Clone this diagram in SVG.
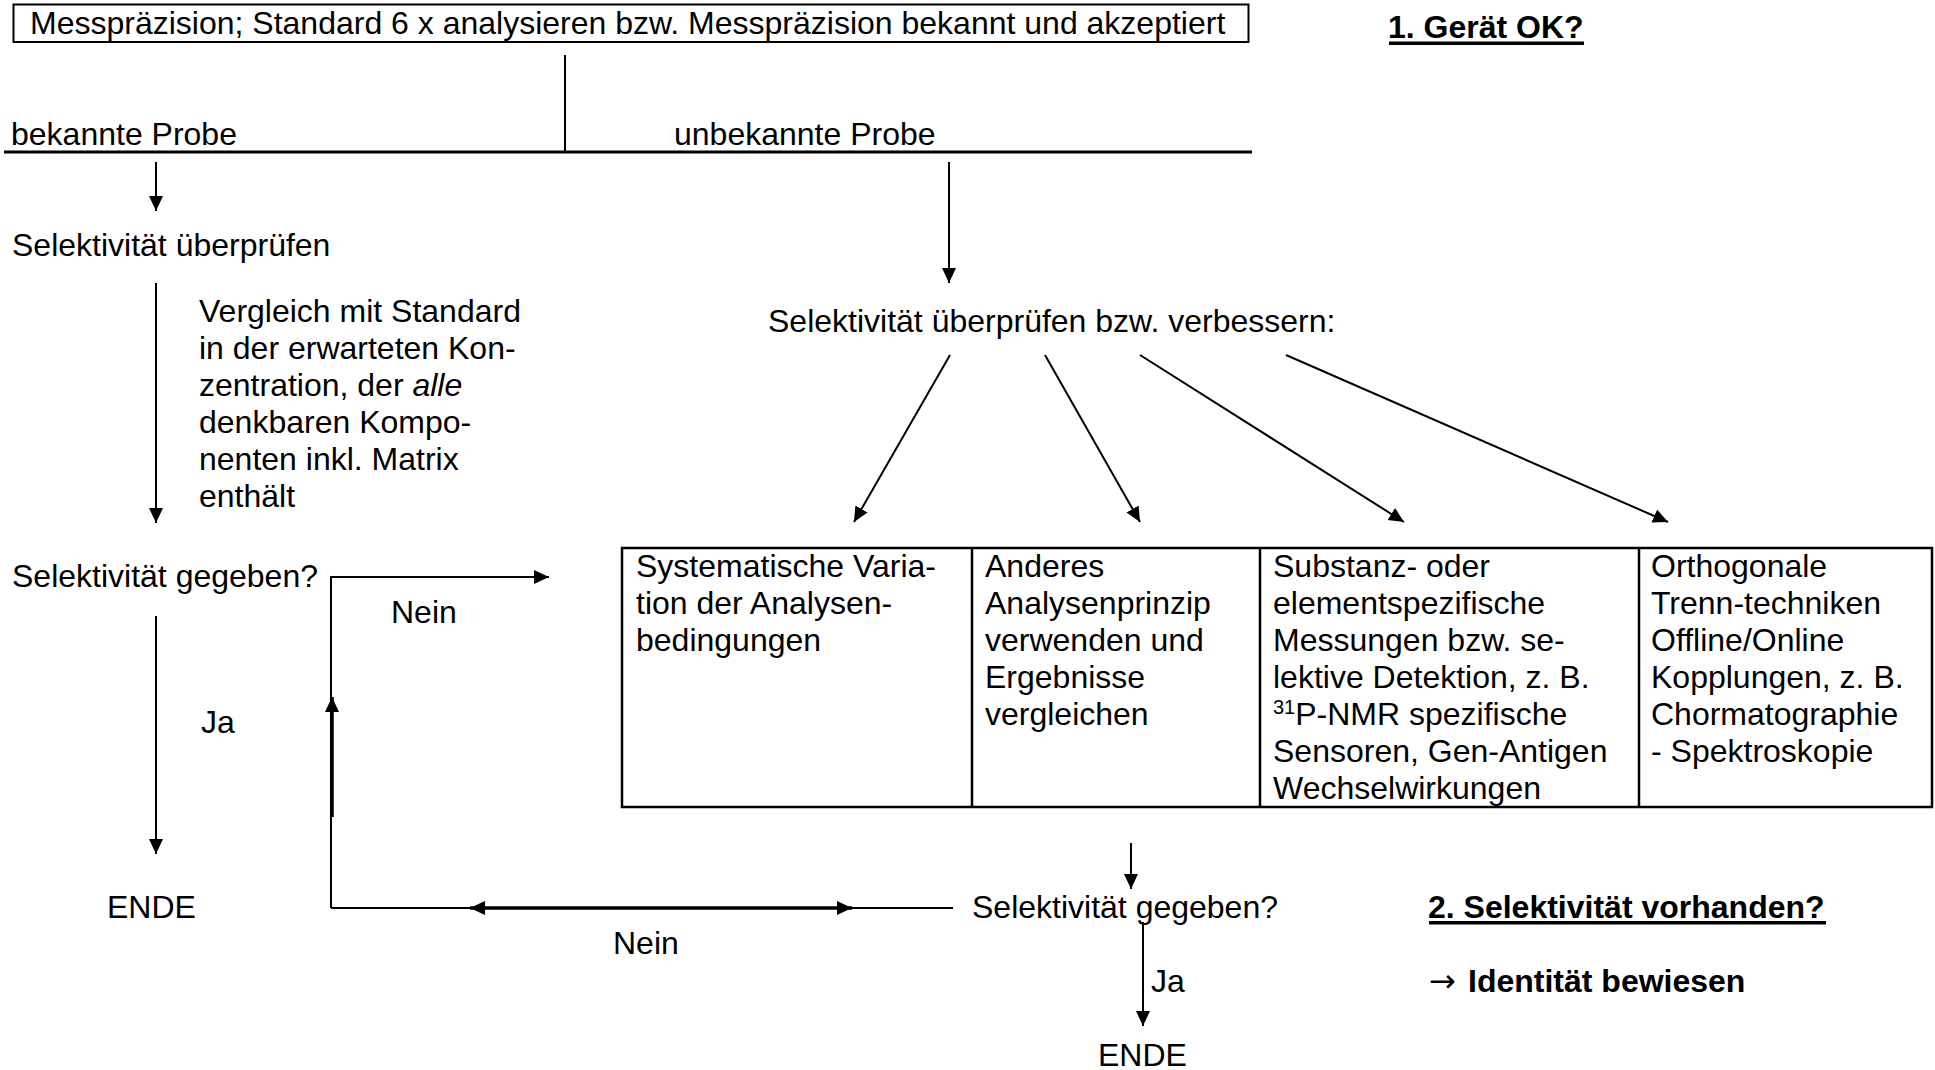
<svg xmlns="http://www.w3.org/2000/svg" width="1935" height="1070" viewBox="0 0 1935 1070">
<style>
text{font-family:"Liberation Sans",Arial,sans-serif;font-size:32px;fill:#000}
.b{font-weight:bold}
.ln{stroke:#000;stroke-width:2;fill:none}
.th{stroke:#000;stroke-width:3.5;fill:none}
.box{stroke:#000;stroke-width:2.5;fill:#fff}
.ar{marker-end:url(#ah)}
</style>
<defs>
<marker id="ah" markerUnits="userSpaceOnUse" markerWidth="16" markerHeight="16" refX="15" refY="7" orient="auto-start-reverse" viewBox="0 0 16 14">
<path d="M0,0 L15,7 L0,14 z" fill="#000"/>
</marker>
</defs>
<rect x="0" y="0" width="1935" height="1070" fill="#fff"/>

<g id="connectors">
<line class="ln" x1="565" y1="55" x2="565" y2="152"/>
<line class="th" x1="4" y1="152" x2="1252" y2="152" style="stroke-width:3"/>
<line class="ln ar" x1="156" y1="162" x2="156" y2="211"/>
<line class="ln ar" x1="949" y1="162" x2="949" y2="283"/>
<line class="ln ar" x1="156" y1="283" x2="156" y2="523"/>
<line class="ln ar" x1="950" y1="355" x2="854" y2="522"/>
<line class="ln ar" x1="1045" y1="355" x2="1140" y2="522"/>
<line class="ln ar" x1="1140" y1="355" x2="1404" y2="522"/>
<line class="ln ar" x1="1286" y1="355" x2="1668" y2="522"/>
<polyline class="ln" points="331,908 331,577 534,577"/>
<line class="ln ar" x1="331" y1="577" x2="549" y2="577"/>
<line class="ln ar" x1="156" y1="616" x2="156" y2="854"/>
<line class="th ar" x1="332" y1="817" x2="332" y2="697"/>
<line class="ln" x1="331" y1="908" x2="953" y2="908"/>
<line class="th ar" x1="470" y1="908" x2="852" y2="908" style="marker-start:url(#ah)"/>
<line class="ln ar" x1="1131" y1="843" x2="1131" y2="889"/>
<line class="ln ar" x1="1143" y1="922" x2="1143" y2="1026"/>
</g>

<g id="top-box">
<rect class="box" x="13.5" y="4.5" width="1235" height="37.5" style="stroke-width:2"/>
<text x="30" y="34">Messpräzision; Standard 6 x analysieren bzw. Messpräzision bekannt und akzeptiert</text>
</g>

<g id="header1">
<text class="b" x="1388" y="38">1. Gerät OK?</text>
<rect x="1389" y="41.5" width="195" height="3.5" fill="#000"/>
</g>

<g id="bekannte-probe"><text x="11" y="145">bekannte Probe</text></g>
<g id="unbekannte-probe"><text x="674" y="145">unbekannte Probe</text></g>
<g id="sel-pruefen"><text x="12" y="256">Selektivität überprüfen</text></g>

<g id="vergleich">
<text x="199" y="322">Vergleich mit Standard</text>
<text x="199" y="359">in der erwarteten Kon-</text>
<text x="199" y="396">zentration, der <tspan font-style="italic">alle</tspan></text>
<text x="199" y="433">denkbaren Kompo-</text>
<text x="199" y="470">nenten inkl. Matrix</text>
<text x="199" y="507">enthält</text>
</g>

<g id="sel-verbessern"><text x="768" y="332">Selektivität überprüfen bzw. verbessern:</text></g>

<g id="sel-gegeben-left"><text x="12" y="587">Selektivität gegeben?</text></g>
<g id="nein-top"><text x="391" y="623">Nein</text></g>
<g id="ja-left"><text x="201" y="733">Ja</text></g>
<g id="ende-left"><text x="107" y="918">ENDE</text></g>

<g id="table">
<rect class="box" x="622" y="548" width="1310" height="259"/>
<line class="box" x1="972" y1="548" x2="972" y2="807"/>
<line class="box" x1="1260" y1="548" x2="1260" y2="807"/>
<line class="box" x1="1639" y1="548" x2="1639" y2="807"/>
<text x="636" y="577">Systematische Varia-</text>
<text x="636" y="614">tion der Analysen-</text>
<text x="636" y="651">bedingungen</text>
<text x="985" y="577">Anderes</text>
<text x="985" y="614">Analysenprinzip</text>
<text x="985" y="651">verwenden und</text>
<text x="985" y="688">Ergebnisse</text>
<text x="985" y="725">vergleichen</text>
<text x="1273" y="577">Substanz- oder</text>
<text x="1273" y="614">elementspezifische</text>
<text x="1273" y="651">Messungen bzw. se-</text>
<text x="1273" y="688">lektive Detektion, z. B.</text>
<text x="1273" y="725"><tspan font-size="20" dy="-11">31</tspan><tspan dy="11">P-NMR spezifische</tspan></text>
<text x="1273" y="762">Sensoren, Gen-Antigen</text>
<text x="1273" y="799">Wechselwirkungen</text>
<text x="1651" y="577">Orthogonale</text>
<text x="1651" y="614">Trenn-techniken</text>
<text x="1651" y="651">Offline/Online</text>
<text x="1651" y="688">Kopplungen, z. B.</text>
<text x="1651" y="725">Chormatographie</text>
<text x="1651" y="762">- Spektroskopie</text>
</g>

<g id="nein-bottom"><text x="613" y="954">Nein</text></g>
<g id="sel-gegeben-bottom"><text x="972" y="918">Selektivität gegeben?</text></g>
<g id="ja-bottom"><text x="1151" y="992">Ja</text></g>
<g id="ende-bottom"><text x="1098" y="1066">ENDE</text></g>

<g id="header2">
<text class="b" x="1428" y="918">2. Selektivität vorhanden?</text>
<rect x="1429" y="921" width="397" height="3.5" fill="#000"/>
</g>
<g id="identitaet">
<text x="1429" y="992"><tspan style="font-family:'DejaVu Sans',sans-serif" font-size="32">→</tspan> <tspan class="b" x="1468">Identität bewiesen</tspan></text>
</g>
</svg>
